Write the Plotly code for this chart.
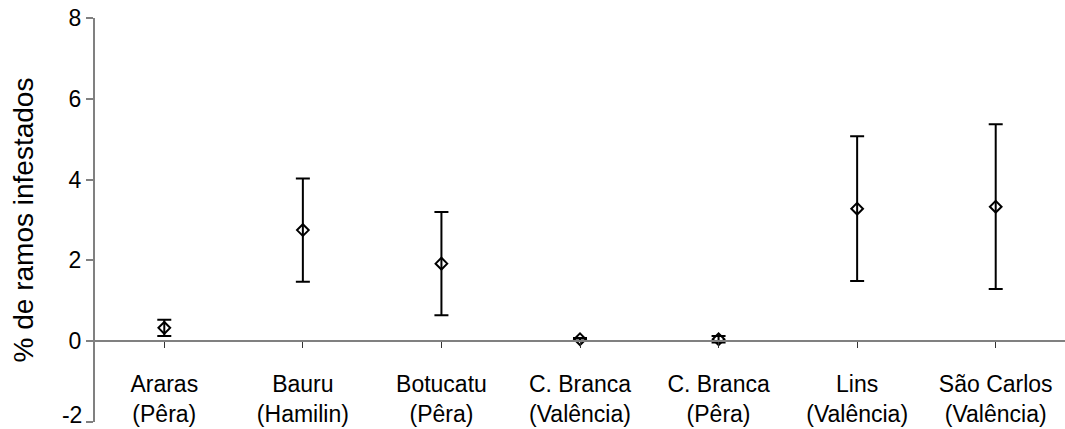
import plotly.graph_objects as go

categories = ["Araras<br>(Pêra)", "Bauru<br>(Hamilin)", "Botucatu<br>(Pêra)",
              "C. Branca<br>(Valência)", "C. Branca<br>(Pêra)", "Lins<br>(Valência)",
              "São Carlos<br>(Valência)"]
means = [0.33, 2.75, 1.92, 0.05, 0.05, 3.28, 3.33]
errors = [0.2, 1.28, 1.28, 0.03, 0.08, 1.79, 2.04]
y_ticks = [-2, 0, 2, 4, 6, 8]
y_tick_text = ["-2", "0", "2", "4", "6", "8"]

font = "Liberation Sans, Arial, sans-serif"
y_range = [y_ticks[0], y_ticks[-1]]

fig = go.Figure(go.Scatter(
    x=list(range(len(categories))), y=means, mode="markers",
    marker=dict(symbol="diamond-open", size=9, color="black", line=dict(width=2, color="black")),
    error_y=dict(type="data", array=errors, visible=True, color="black", thickness=2, width=7),
    showlegend=False, cliponaxis=False,
))

main_text = [t if v != y_ticks[0] else "" for v, t in zip(y_ticks, y_tick_text)]

fig.update_layout(
    width=1065, height=429,
    margin=dict(l=95, r=0, t=18, b=7),
    plot_bgcolor="white", paper_bgcolor="white",
    font=dict(family=font, size=23, color="black"),
    xaxis=dict(
        range=[-0.5, 6.5], tickmode="array",
        tickvals=list(range(len(categories))), ticktext=categories,
        showgrid=False, zeroline=False, showline=True, linecolor="#808080", linewidth=2,
        ticks="outside", tickson="boundaries", ticklen=6, tickcolor="#333333", tickwidth=1,
        anchor="free", position=0.2, ticklabelstandoff=16, automargin=False,
        tickfont=dict(size=23, color="black"),
    ),
    yaxis=dict(
        range=y_range, tickmode="array", tickvals=y_ticks, ticktext=main_text,
        showgrid=False, zeroline=False,
        showline=True, linecolor="#808080", linewidth=2,
        ticks="outside", ticklen=7, tickcolor="#808080", tickwidth=2,
        automargin=False, ticklabeloverflow="allow",
        tickfont=dict(size=23, color="black"),
        title=dict(text="% de ramos infestados", font=dict(size=28, color="black"), standoff=27),
    ),
    yaxis2=dict(
        range=y_range, overlaying="y", side="left", anchor="x",
        tickmode="array", tickvals=[y_ticks[0]], ticktext=[y_tick_text[0]],
        showgrid=False, zeroline=False, showline=False, ticks="outside", ticklen=7,
        tickcolor="rgba(0,0,0,0)", tickwidth=2, showticklabels=True, visible=True,
        automargin=False, ticklabeloverflow="allow", ticklabelshift=-7,
        tickfont=dict(size=23, color="black"),
    ),
)
# empty trace binding the overlay axis so it is drawn
fig.add_trace(go.Scatter(x=[], y=[], yaxis="y2", showlegend=False, hoverinfo="skip"))

fig.write_html("out.html")
